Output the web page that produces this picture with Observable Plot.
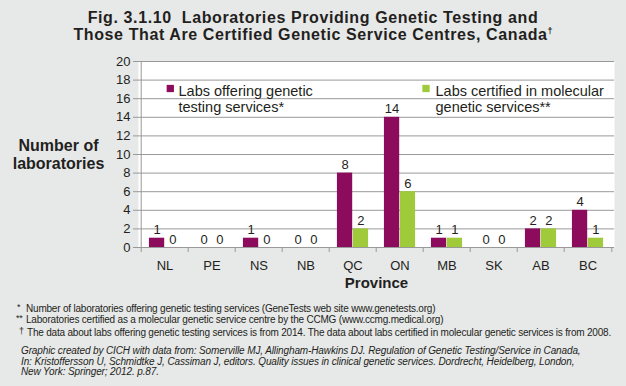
<!DOCTYPE html>
<html><head><meta charset="utf-8">
<script src="https://cdn.jsdelivr.net/npm/d3@7"></script>
<script src="https://cdn.jsdelivr.net/npm/@observablehq/plot@0.6"></script>
<style>
html,body{margin:0;padding:0;background:#e7e8e8;}
body{width:626px;height:386px;overflow:hidden;font-family:"Liberation Sans",Arial,Helvetica,sans-serif;color:#231f20;}
#title{height:50px;box-sizing:border-box;padding-top:8.5px;text-align:center;font-weight:bold;font-size:16px;line-height:17.5px;letter-spacing:0.6px;margin:0;white-space:nowrap}
#title .dag{font-size:9px;position:relative;top:-6px;letter-spacing:0}
#chart svg{display:block}
#notes{font-size:10px;line-height:11px;padding-top:8px;letter-spacing:-0.2px}
.n{position:relative;padding-left:26px;white-space:nowrap}
.n .m{position:absolute;left:17px;top:-1px;font-size:9px}
.src{font-style:italic;margin-top:8px;padding-left:21px;line-height:10.7px;white-space:nowrap;letter-spacing:-0.12px}
</style></head>
<body>
<div id="title">Fig. 3.1.10&nbsp; Laboratories Providing Genetic Testing and<br>Those That Are Certified Genetic Service Centres, Canada<span class="dag">†</span></div>
<div id="chart"></div>
<div id="notes">
<div class="n"><span class="m">*</span>Number of laboratories offering genetic testing services (GeneTests web site www.genetests.org)</div>
<div class="n"><span class="m" style="left:16px">**</span>Laboratories certified as a molecular genetic service centre by the CCMG (www.ccmg.medical.org)</div>
<div class="n" style="margin-top:2px;padding-left:27px"><span class="m" style="left:19px">†</span>The data about labs offering genetic testing services is from 2014. The data about labs certified in molecular genetic services is from 2008.</div>
<div class="src">Graphic created by CICH with data from: Somerville MJ, Allingham-Hawkins DJ. Regulation of Genetic Testing/Service in Canada,<br>In: Kristoffersson U, Schmidtke J, Cassiman J, editors. Quality issues in clinical genetic services. Dordrecht, Heidelberg, London,<br>New York: Springer; 2012. p.87.</div>
</div>
<script>
const provinces = ["NL", "PE", "NS", "NB", "QC", "ON", "MB", "SK", "AB", "BC"];
const labsOffering = [1, 0, 1, 0, 8, 14, 1, 0, 2, 4];
const labsCertified = [0, 0, 0, 0, 2, 6, 1, 0, 2, 1];
const yTicks = [0, 2, 4, 6, 8, 10, 12, 14, 16, 18, 20];
const seriesNames = ["Labs offering genetic\ntesting services*", "Labs certified in molecular\ngenetic services**"];
const seriesColors = ["#8c0b5d", "#9fcb3b"];
const yTitle = "Number of\nlaboratories";
const xTitle = "Province";

const W = 626, H = 245, mL = 138, mR = 12, mT = 11, mB = 48;
const step = (W - mL - mR) / provinces.length;
const ink = "#231f20", gridColor = "#999999";
const rows = provinces.map((p, i) => ({province: p, labs: labsOffering[i], cert: labsCertified[i]}));

const chart = Plot.plot({
  width: W, height: H,
  marginLeft: mL, marginRight: mR, marginTop: mT, marginBottom: mB,
  style: {fontFamily: '"Liberation Sans", Arial, Helvetica, sans-serif', fontSize: "13px", color: ink, background: "transparent"},
  x: {domain: provinces, padding: 0},
  y: {domain: [0, 20]},
  marks: [
    Plot.frame({fill: "white", stroke: "none"}),
    Plot.ruleY(yTicks, {stroke: gridColor, strokeWidth: 1}),
    Plot.ruleX([provinces[0]], {dx: -step / 2, stroke: gridColor}),
    Plot.axisY({ticks: yTicks, tickSize: 5, tickPadding: 3, stroke: gridColor, fill: ink, fontSize: 13, label: null}),
    Plot.axisX({tickSize: 0, tickPadding: 13, fill: ink, fontSize: 13, label: null}),
    Plot.axisX({tickSize: 5, text: null, dx: -step / 2, stroke: gridColor, label: null}),
    Plot.axisX({ticks: provinces.slice(-1), tickSize: 5, text: null, dx: step / 2, stroke: gridColor, label: null}),
    Plot.barY(rows, {x: "province", y: "labs", fill: seriesColors[0], insetLeft: step / 6, insetRight: step / 2}),
    Plot.barY(rows, {x: "province", y: "cert", fill: seriesColors[1], insetLeft: step / 2, insetRight: step / 6}),
    Plot.text(rows, {x: "province", y: "labs", text: "labs", dx: -step / 6, dy: -8, fill: ink, fontSize: 13}),
    Plot.text(rows, {x: "province", y: "cert", text: "cert", dx: step / 6, dy: -8, fill: ink, fontSize: 13}),
    Plot.dot([seriesNames[0]], {frameAnchor: "top-left", dx: 31.8, dy: 27, symbol: "square", r: 4.1, fill: seriesColors[0]}),
    Plot.text([seriesNames[0]], {frameAnchor: "top-left", dx: 40, dy: 22.3, textAnchor: "start", lineAnchor: "top", fontSize: 14.5, lineHeight: 1.15, fill: ink}),
    Plot.dot([seriesNames[1]], {frameAnchor: "top-left", dx: 287.5, dy: 27, symbol: "square", r: 4.1, fill: seriesColors[1]}),
    Plot.text([seriesNames[1]], {frameAnchor: "top-left", dx: 297, dy: 22.3, textAnchor: "start", lineAnchor: "top", fontSize: 14.5, lineHeight: 1.15, fill: ink}),
    Plot.text([yTitle], {frameAnchor: "left", dx: -80, textAnchor: "middle", fontWeight: "bold", fontSize: 16, lineHeight: 1.14, fill: ink}),
    Plot.text([xTitle], {frameAnchor: "bottom", dy: 40, fontWeight: "bold", fontSize: 15, fill: ink})
  ]
});
document.getElementById("chart").append(chart);
</script>
</body></html>
